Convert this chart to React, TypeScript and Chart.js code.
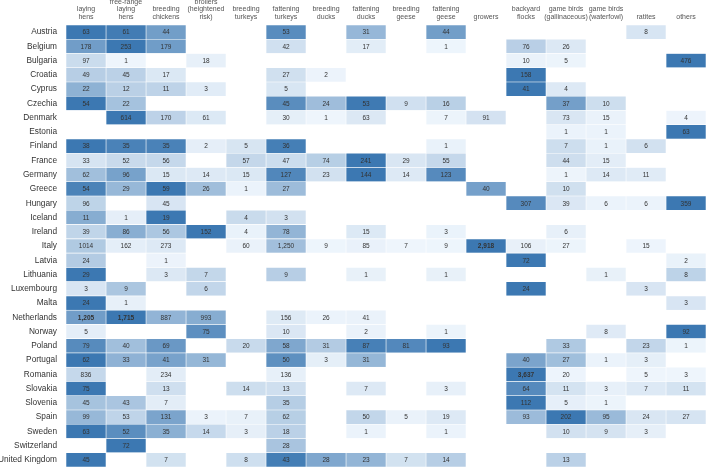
import React, { useEffect, useRef } from "react";
import { Chart, registerables } from "chart.js";

Chart.register(...registerables);

const countries = [
  "Austria", "Belgium", "Bulgaria", "Croatia", "Cyprus", "Czechia", "Denmark", "Estonia",
  "Finland", "France", "Germany", "Greece", "Hungary", "Iceland", "Ireland", "Italy",
  "Latvia", "Lithuania", "Luxembourg", "Malta", "Netherlands", "Norway", "Poland", "Portugal",
  "Romania", "Slovakia", "Slovenia", "Spain", "Sweden", "Switzerland", "United Kingdom",
];

const columnLabels: string[][] = [
  ["laying", "hens"],
  ["free-range", "laying", "hens"],
  ["breeding", "chickens"],
  ["broilers", "(heightened", "risk)"],
  ["breeding", "turkeys"],
  ["fattening", "turkeys"],
  ["breeding", "ducks"],
  ["fattening", "ducks"],
  ["breeding", "geese"],
  ["fattening", "geese"],
  ["growers"],
  ["backyard", "flocks"],
  ["game birds", "(gallinaceous)"],
  ["game birds", "(waterfowl)"],
  ["ratites"],
  ["others"],
];

const _ = null;
// one array per column, one entry per country (same order as countries)
const layingHens = [63, 178, 97, 49, 22, 54, _, _, 38, 33, 62, 54, 96, 11, 39, 1014, 24, 29, 3, 24, 1205, 5, 79, 62, 836, 75, 45, 99, 63, _, 45];
const freeRangeLayingHens = [61, 253, 1, 45, 12, 22, 614, _, 35, 52, 96, 29, _, 1, 86, 162, _, _, 9, 1, 1715, _, 40, 33, _, _, 43, 53, 52, 72, _];
const breedingChickens = [44, 179, _, 17, 11, _, 170, _, 35, 56, 15, 59, 45, 19, 56, 273, 1, 3, _, _, 887, _, 69, 41, 234, 13, 7, 131, 35, _, 7];
const broilers = [_, _, 18, _, 3, _, 61, _, 2, _, 14, 26, _, _, 152, _, _, 7, 6, _, 993, 75, _, 31, _, _, _, 3, 14, _, _];
const breedingTurkeys = [_, _, _, _, _, _, _, _, 5, 57, 15, 1, _, 4, 4, 60, _, _, _, _, _, _, 20, _, _, 14, _, 7, 3, _, 8];
const fatteningTurkeys = [53, 42, _, 27, 5, 45, 30, _, 36, 47, 127, 27, _, 3, 78, 1250, _, 9, _, _, 156, 10, 58, 50, 136, 13, 35, 62, 18, 28, 43];
const breedingDucks = [_, _, _, 2, _, 24, 1, _, _, 74, 23, _, _, _, _, 9, _, _, _, _, 26, _, 31, 3, _, _, _, _, _, _, 28];
const fatteningDucks = [31, 17, _, _, _, 53, 63, _, _, 241, 144, _, _, _, 15, 85, _, 1, _, _, 41, 2, 87, 31, _, 7, _, 50, 1, _, 23];
const breedingGeese = [_, _, _, _, _, 9, _, _, _, 29, 14, _, _, _, _, 7, _, _, _, _, _, _, 81, _, _, _, _, 5, _, _, 7];
const fatteningGeese = [44, 1, _, _, _, 16, 7, _, 1, 55, 123, _, _, _, 3, 9, _, 1, _, _, _, 1, 93, _, _, 3, _, 19, 1, _, 14];
const growers = [_, _, _, _, _, _, 91, _, _, _, _, 40, _, _, _, 2918, _, _, _, _, _, _, _, _, _, _, _, _, _, _, _];
const backyardFlocks = [_, 76, 10, 158, 41, _, _, _, _, _, _, _, 307, _, _, 106, 72, _, 24, _, _, _, _, 40, 3637, 64, 112, 93, _, _, _];
const gameBirdsGallinaceous = [_, 26, 5, _, 4, 37, 73, 1, 7, 44, 1, 10, 39, _, 6, 27, _, _, _, _, _, _, 33, 27, 20, 11, 5, 202, 10, _, 13];
const gameBirdsWaterfowl = [_, _, _, _, _, 10, 15, 1, 1, 15, 14, _, 6, _, _, _, _, 1, _, _, _, 8, _, 1, _, 3, 1, 95, 9, _, _];
const ratites = [8, _, _, _, _, _, _, _, 6, _, 11, _, 6, _, _, 15, _, _, 3, _, _, _, 23, 3, 5, 7, _, 24, 3, _, _];
const others = [_, _, 476, _, _, _, 4, 63, _, _, _, _, 359, _, _, _, 2, 8, _, 3, _, 92, 1, _, 3, 11, _, 27, _, _, _];

const columnValues: (number | null)[][] = [
  layingHens, freeRangeLayingHens, breedingChickens, broilers, breedingTurkeys,
  fatteningTurkeys, breedingDucks, fatteningDucks, breedingGeese, fatteningGeese,
  growers, backyardFlocks, gameBirdsGallinaceous, gameBirdsWaterfowl, ratites, others,
];

// [countryIndex, columnIndex]
const boldCells = [[20, 0], [20, 1], [15, 10], [24, 11]];
const plainFormatCells = [[15, 0]];

const LOW = [238, 245, 252];
const HIGH = [60, 120, 178];

function cellColor(t: number): string {
  const c = LOW.map((lo, i) => Math.round(lo + (HIGH[i] - lo) * t));
  return `rgb(${c[0]},${c[1]},${c[2]})`;
}

const rowMax = countries.map((_c, r) =>
  Math.max(...columnValues.map((col) => (col[r] == null ? 0 : (col[r] as number))))
);

function isIn(list: number[][], r: number, c: number) {
  return list.some(([a, b]) => a === r && b === c);
}

function formatValue(v: number, r: number, c: number) {
  if (isIn(plainFormatCells, r, c)) return String(v);
  return v.toLocaleString("en-US");
}

const FONT = "'Liberation Sans', Arial, sans-serif";

const cellTextPlugin = {
  id: "cellText",
  afterDatasetsDraw(chart: any) {
    const ctx = chart.ctx;
    ctx.save();
    ctx.textAlign = "center";
    ctx.textBaseline = "middle";
    ctx.fillStyle = "#333";
    chart.data.datasets.forEach((_ds: any, d: number) => {
      const meta = chart.getDatasetMeta(d);
      meta.data.forEach((el: any, r: number) => {
        const v = columnValues[d][r];
        if (v == null) return;
        const p = el.getProps(["x", "y", "base"], true);
        const bold = isIn(boldCells, r, d);
        ctx.font = `${bold ? "bold " : ""}6.5px ${FONT}`;
        ctx.fillText(formatValue(v, r, d), (p.x + p.base) / 2, p.y + 0.5);
      });
    });
    ctx.restore();
  },
};

export default function App() {
  const ref = useRef<HTMLCanvasElement | null>(null);

  useEffect(() => {
    document.body.style.margin = "0";
    const canvas = ref.current;
    if (!canvas) return;
    const chart = new Chart(canvas, {
      type: "bar",
      data: {
        labels: countries,
        datasets: columnValues.map((col, c) => ({
          label: columnLabels[c].join(" "),
          data: col.map(() => 1),
          backgroundColor: col.map((v, r) =>
            v == null ? "rgba(255,255,255,0)" : cellColor(v / rowMax[r])
          ),
          borderColor: "#ffffff",
          borderWidth: 0.6,
          borderSkipped: false,
          barPercentage: 1,
          categoryPercentage: 1,
        })),
      },
      options: {
        indexAxis: "y",
        animation: false,
        responsive: true,
        maintainAspectRatio: false,
        layout: { padding: { left: 0, right: 3, top: 0, bottom: 0 } },
        plugins: {
          legend: { display: false },
          tooltip: { enabled: false },
        },
        scales: {
          x: {
            type: "linear",
            position: "top",
            min: 0,
            max: 16,
            stacked: true,
            grid: { display: false, drawTicks: false },
            border: { display: false },
            afterBuildTicks: (s: any) => {
              s.ticks = columnLabels.map((_l, i) => ({ value: i + 0.5 }));
            },
            afterFit: (s: any) => {
              s.height = 25;
              s.paddingLeft = 0;
              s.paddingRight = 0;
            },
            ticks: {
              autoSkip: false,
              maxRotation: 0,
              minRotation: 0,
              padding: 4,
              color: "#555",
              font: { family: FONT, size: 7, lineHeight: 1.1 },
              callback: (_v: any, i: number) => columnLabels[i],
            },
          },
          y: {
            type: "category",
            stacked: true,
            grid: { display: false, drawTicks: false },
            border: { display: false },
            afterFit: (s: any) => {
              s.width = 66;
              s.paddingTop = 0;
              s.paddingBottom = 0;
            },
            ticks: {
              autoSkip: false,
              padding: 9,
              color: "#333",
              font: { family: FONT, size: 8.3 },
            },
          },
        },
      } as any,
      plugins: [cellTextPlugin],
    });
    return () => chart.destroy();
  }, []);

  return (
    <div style={{ position: "fixed", left: 0, top: 0, width: 709, height: 467 }}>
      <canvas ref={ref} />
    </div>
  );
}
